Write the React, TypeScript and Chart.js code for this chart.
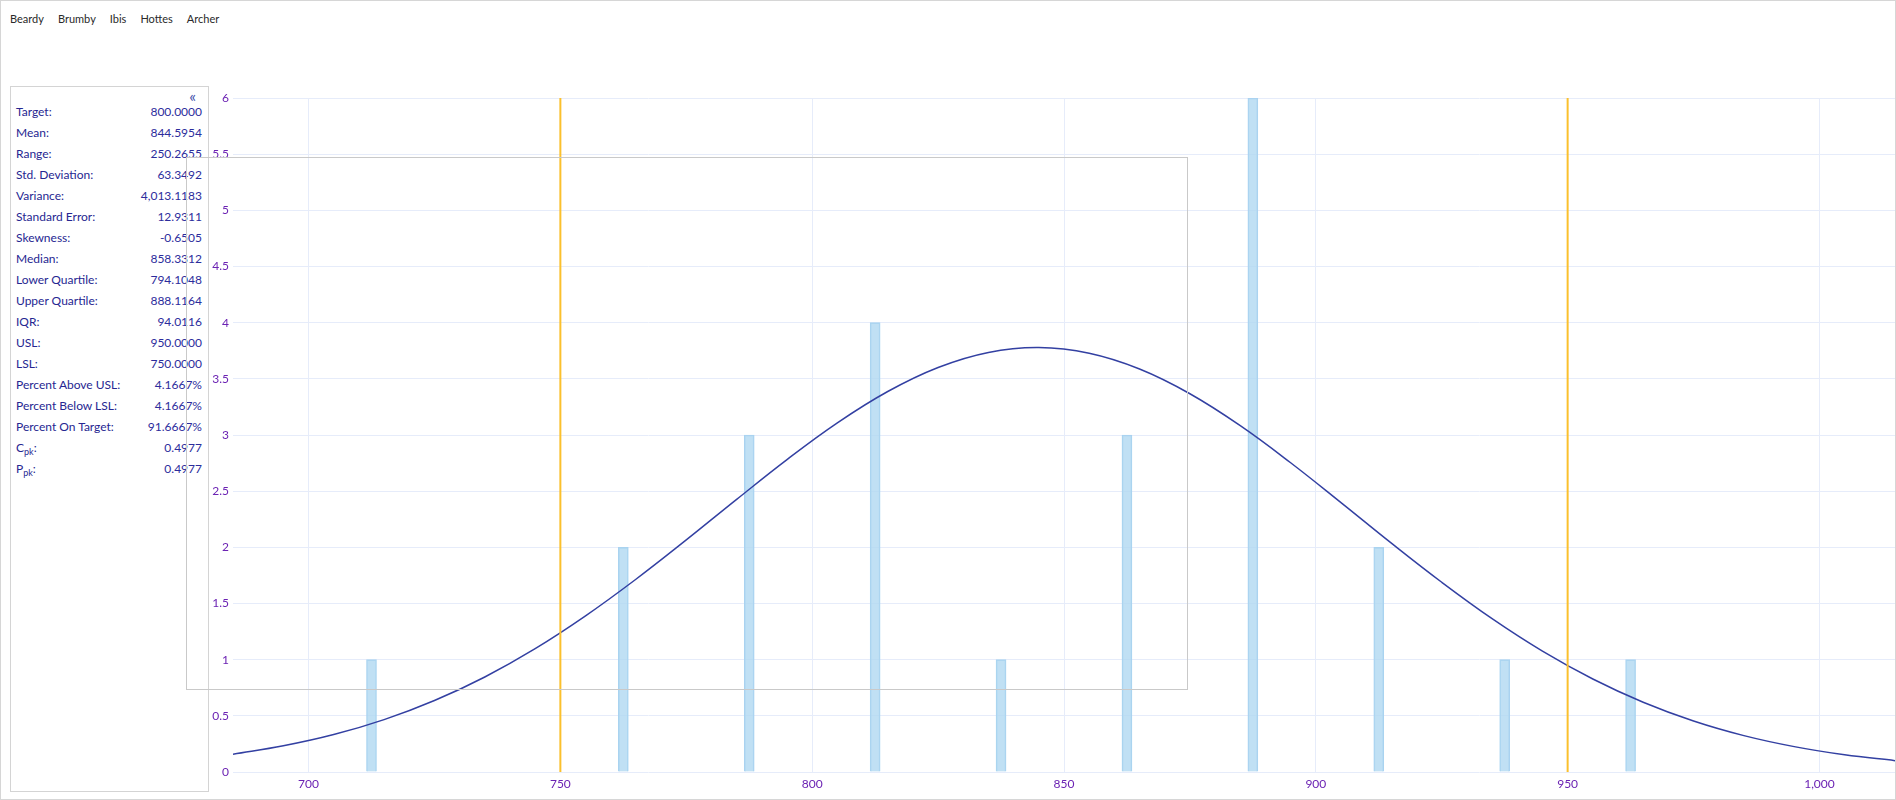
import React, { useEffect, useRef } from "react";
import { Chart, registerables } from "chart.js";

Chart.register(...registerables);

const menuItems = ["Beardy", "Brumby", "Ibis", "Hottes", "Archer"];

const statLabels = [
  "Target:",
  "Mean:",
  "Range:",
  "Std. Deviation:",
  "Variance:",
  "Standard Error:",
  "Skewness:",
  "Median:",
  "Lower Quartile:",
  "Upper Quartile:",
  "IQR:",
  "USL:",
  "LSL:",
  "Percent Above USL:",
  "Percent Below LSL:",
  "Percent On Target:",
  "C|pk",
  "P|pk",
];

const statValues = [
  "800.0000",
  "844.5954",
  "250.2655",
  "63.3492",
  "4,013.1183",
  "12.9311",
  "-0.6505",
  "858.3312",
  "794.1048",
  "888.1164",
  "94.0116",
  "950.0000",
  "750.0000",
  "4.1667%",
  "4.1667%",
  "91.6667%",
  "0.4977",
  "0.4977",
];

const binCenters = [712.5, 762.5, 787.5, 812.5, 837.5, 862.5, 887.5, 912.5, 937.5, 962.5];
const binCounts = [1, 2, 3, 4, 1, 3, 6, 2, 1, 1];

const curveX = [
  685, 695, 705, 715, 725, 735, 745, 755, 765, 775, 785, 795, 805, 815, 825, 835, 845,
  855, 865, 875, 885, 895, 905, 915, 925, 935, 945, 955, 965, 975, 985, 995, 1005, 1015,
];
const curveY = [
  0.158, 0.233, 0.333, 0.466, 0.636, 0.846, 1.098, 1.39, 1.716, 2.066, 2.427, 2.781,
  3.108, 3.387, 3.601, 3.735, 3.778, 3.727, 3.587, 3.367, 3.083, 2.753, 2.398, 2.037,
  1.689, 1.365, 1.076, 0.828, 0.621, 0.454, 0.324, 0.226, 0.153, 0.101,
];

const specLimits = [750, 950];

const xMin = 685;
const xMax = 1015;
const xStep = 50;
const yMin = 0;
const yMax = 6;
const yStep = 0.5;

const FONT = "Lato, 'Noto Sans', sans-serif";

function ChartCanvas() {
  const ref = useRef<HTMLCanvasElement | null>(null);
  useEffect(() => {
    if (!ref.current) return;
    const tickColor = "#6b22b3";
    const gridColor = "#e6ecfa";
    const chart = new Chart(ref.current, {
      type: "bar",
      data: {
        datasets: [
          ...specLimits.map((v) => ({
            type: "line" as const,
            data: [
              { x: v, y: yMin },
              { x: v, y: yMax },
            ],
            borderColor: "#fbc02d",
            borderWidth: 2,
            pointRadius: 0,
            fill: false,
          })),
          {
            type: "line" as const,
            data: curveX.map((x, i) => ({ x, y: curveY[i] })),
            borderColor: "#3340a2",
            borderWidth: 1.5,
            pointRadius: 0,
            tension: 0.4,
            fill: false,
          },
          {
            type: "bar" as const,
            data: binCenters.map((x, i) => ({ x, y: binCounts[i] })),
            backgroundColor: "rgba(176, 216, 241, 0.8)",
            borderColor: "#a9d3f0",
            borderWidth: 1,
            barThickness: 10,
          },
        ],
      },
      options: {
        animation: false,
        responsive: true,
        maintainAspectRatio: false,
        layout: { padding: { top: 17, right: 2, left: 0, bottom: 0 } },
        plugins: { legend: { display: false }, tooltip: { enabled: false } },
        scales: {
          x: {
            type: "linear",
            min: xMin,
            max: xMax,
            offset: false,
            afterFit: (s: any) => {
              s.height = 29;
            },
            ticks: {
              stepSize: xStep,
              includeBounds: false,
              color: tickColor,
              padding: 5,
              font: { family: FONT, size: 12 },
              maxRotation: 0,
            },
            grid: { color: gridColor, drawTicks: false, offset: false },
            border: { display: false },
          },
          y: {
            min: yMin,
            max: yMax,
            afterFit: (s: any) => {
              s.width = 24;
            },
            ticks: {
              stepSize: yStep,
              color: tickColor,
              padding: 4,
              font: { family: FONT, size: 12 },
              callback: (v: any) => String(Number(v)),
            },
            grid: { color: gridColor, drawTicks: false },
            border: { display: false },
          },
        },
      },
    } as any);
    return () => chart.destroy();
  }, []);
  return <canvas ref={ref} />;
}

export default function App() {
  return (
    <div
      style={{
        position: "absolute",
        left: 0,
        top: 0,
        width: 1896,
        height: 800,
        boxSizing: "border-box",
        border: "1px solid #d6d6d6",
        background: "#fff",
        fontFamily: FONT,
        overflow: "hidden",
      }}
    >
      <div
        style={{
          position: "absolute",
          left: 9,
          top: 10,
          display: "flex",
          gap: 14,
          fontSize: 11,
          color: "#2a2a2a",
          lineHeight: "16px",
        }}
      >
        {menuItems.map((m) => (
          <span key={m}>{m}</span>
        ))}
      </div>

      <div
        style={{
          position: "absolute",
          left: 9,
          top: 85,
          width: 199,
          height: 706,
          boxSizing: "border-box",
          border: "1px solid #d4d4d4",
        }}
      >
        <div
          style={{
            position: "absolute",
            right: 12,
            top: 1,
            fontSize: 16,
            color: "#3a4aa8",
            lineHeight: "16px",
          }}
        >
          «
        </div>
        <div style={{ position: "absolute", left: 5, top: 15, width: 186, fontSize: 12 }}>
          {statLabels.map((lab, i) => {
            const parts = lab.split("|");
            return (
              <div
                key={i}
                style={{
                  display: "flex",
                  justifyContent: "space-between",
                  height: 21,
                  lineHeight: "20px",
                }}
              >
                <span style={{ color: "#262691" }}>
                  {parts.length > 1 ? (
                    <>
                      {parts[0]}
                      <sub style={{ fontSize: 9, verticalAlign: "-3px" }}>{parts[1]}</sub>:
                    </>
                  ) : (
                    lab
                  )}
                </span>
                <span style={{ color: "#2c2c9c" }}>{statValues[i]}</span>
              </div>
            );
          })}
        </div>
      </div>

      <div style={{ position: "absolute", left: 208, top: 80, width: 1688, height: 720 }}>
        <ChartCanvas />
      </div>

      <div
        style={{
          position: "absolute",
          left: 185,
          top: 156,
          width: 1002,
          height: 533,
          boxSizing: "border-box",
          border: "1px solid #c9c9c9",
          pointerEvents: "none",
        }}
      />
    </div>
  );
}
